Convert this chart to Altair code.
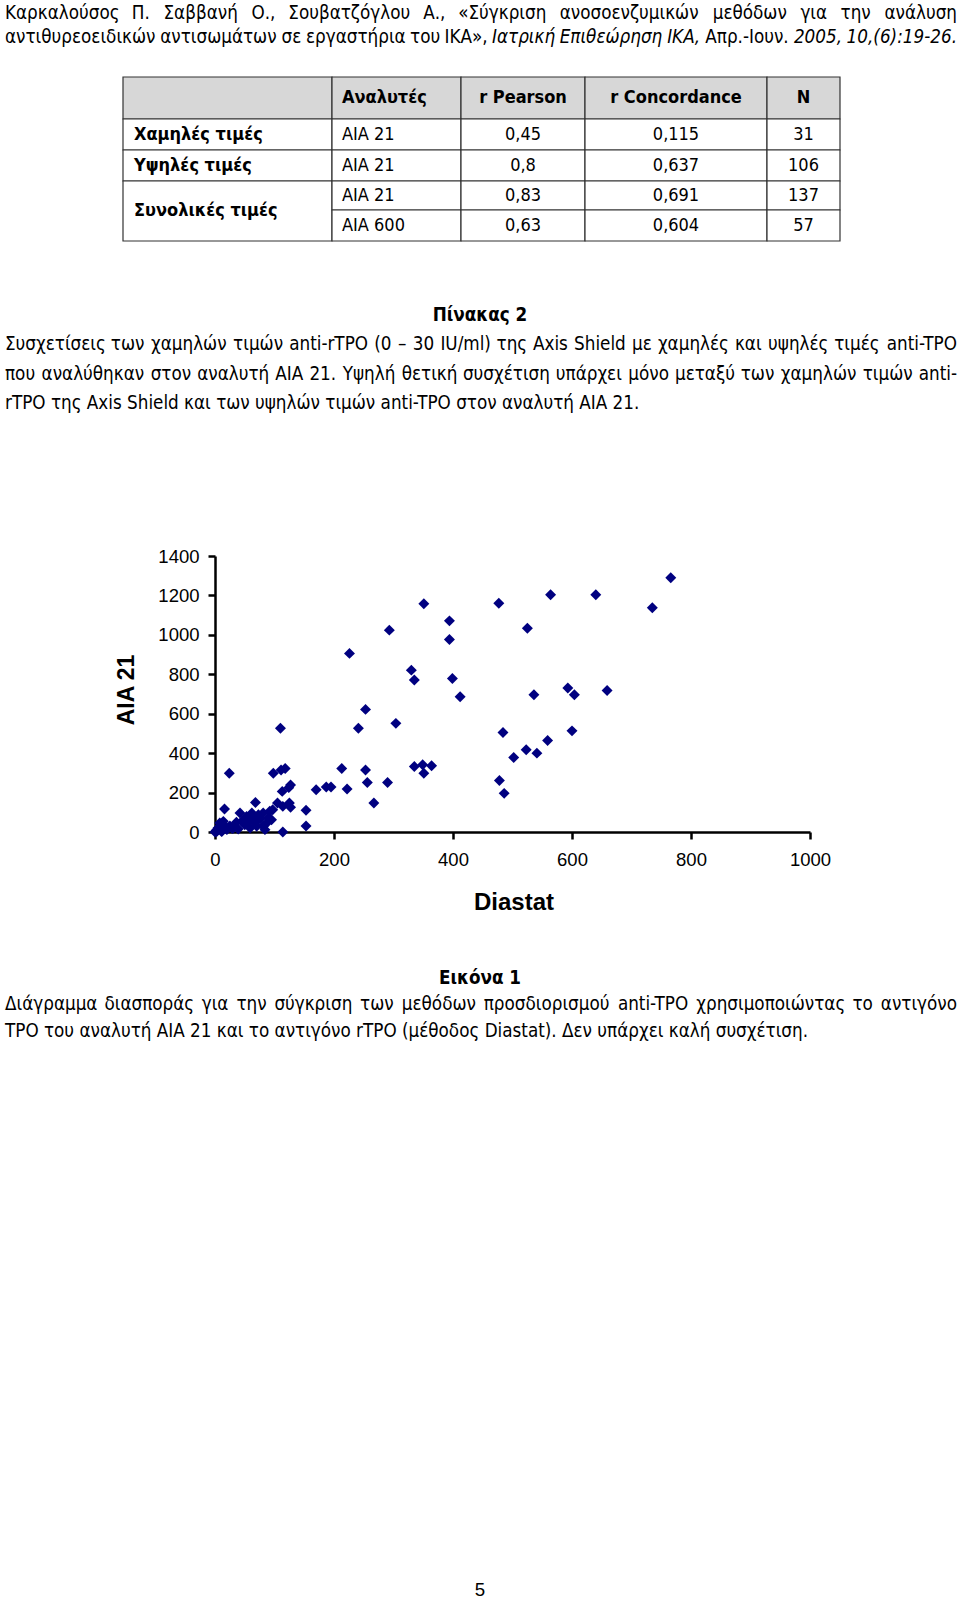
import unicodedata
import altair as alt
import pandas as pd

W, H = 960, 1600
NARROW = "'Liberation Sans Narrow', 'Arial Narrow', 'DejaVu Sans Condensed', sans-serif"
ARIAL = "'Liberation Sans', Arial, sans-serif"

# ---------------- content ----------------
header_line1 = ["Καρκαλούσος", "Π.", "Σαββανή", "Ο.,", "Σουβατζόγλου", "Α.,", "«Σύγκριση",
                "ανοσοενζυμικών", "μεθόδων", "για", "την", "ανάλυση"]
header_line2 = ["αντιθυρεοειδικών", "αντισωμάτων", "σε", "εργαστήρια", "του", "ΙΚΑ»,",
                "Ιατρική", "Επιθεώρηση", "ΙΚΑ,", "Απρ.-Ιουν.", "2005,", "10,(6):19-26."]
header_line2_italic = [0, 0, 0, 0, 0, 0, 1, 1, 1, 0, 1, 1]

table_header = ["", "Αναλυτές", "r Pearson", "r Concordance", "N"]
row_groups = ["Χαμηλές τιμές", "Υψηλές τιμές", "Συνολικές τιμές"]
analyzers = ["AIA 21", "AIA 21", "AIA 21", "AIA 600"]
pearson = ["0,45", "0,8", "0,83", "0,63"]
concordance = ["0,115", "0,637", "0,691", "0,604"]
n_values = ["31", "106", "137", "57"]

table_title = "Πίνακας 2"
table_caption_justified = [
    "Συσχετίσεις των χαμηλών τιμών anti-rTPO (0 – 30 IU/ml) της Axis Shield  με χαμηλές και υψηλές τιμές anti-TPO",
    "που αναλύθηκαν στον αναλυτή AIA 21. Υψηλή θετική συσχέτιση υπάρχει μόνο μεταξύ των χαμηλών τιμών anti-",
]
table_caption_last = "rTPO της Axis Shield και των υψηλών τιμών anti-TPO στον αναλυτή AIA 21."

figure_title = "Εικόνα 1"
figure_caption_justified = [
    "Διάγραμμα διασποράς για την σύγκριση των μεθόδων προσδιορισμού anti-TPO χρησιμοποιώντας το αντιγόνο",
]
figure_caption_last = "TPO του αναλυτή AIA 21 και το αντιγόνο rTPO (μέθοδος Diastat). Δεν υπάρχει καλή συσχέτιση."
page_number = "5"

x_title = "Diastat"
y_title = "AIA 21"
x_ticks = [0, 200, 400, 600, 800, 1000]
y_ticks = [0, 200, 400, 600, 800, 1000, 1200, 1400]

diastat = [351, 477, 394, 293, 394, 226, 330, 335, 399, 412, 253, 241, 304, 110, 484, 502,
           213, 253, 335, 349, 364, 351, 256, 290, 267, 222, 170, 187, 195, 478, 486,
           766, 564, 640, 735, 525, 536, 593, 604, 659, 600, 559, 523, 541,
           24, 98, 111, 118, 113, 124, 127, 125, 127, 114, 105, 97, 153, 153, 114, 16, 68,
           92, 81, 73, 62, 53, 42, 36, 45, 56, 67, 81, 84, 76, 64, 50, 28, 17, 8, 6, 3, 11,
           20, 0, 14, 90, 95, 87, 70, 59, 39, 2, 5, 10, 12, 25, 30]
aia21 = [1158, 1160, 1071, 1024, 976, 906, 821, 771, 779, 686, 622, 526, 551, 526, 505, 378,
         322, 315, 332, 341, 336, 298, 251, 251, 147, 218, 214, 228, 228, 261, 196,
         1290, 1203, 1203, 1138, 1034, 696, 730, 696, 718, 513, 464, 417, 400,
         298, 298, 315, 322, 206, 225, 239, 147, 125, 130, 147, 113, 110, 30, 0, 117, 150,
         105, 96, 88, 96, 79, 96, 49, 54, 54, 46, 29, 12, 66, 71, 37, 20, 29, 46, 12, 3, 3,
         12, 0, 54, 71, 62, 46, 29, 20, 15, 8, 20, 25, 5, 30, 18]

# ---------------- layout (pixels) ----------------
LEFT, RIGHT = 5, 957
BODY = 18.7
TABLE_FS = 18
col_edges = [123, 332, 461, 585, 767, 840]
row_edges = [77, 119, 150, 181, 210, 241]
GRAY = "#d7d7d7"

# approximate advance widths (em) of DejaVu Sans, scaled for the condensed face
_W = {}
for ch, w in zip("abcdefghijklmnopqrstuvwxyz",
                 [.613, .635, .550, .635, .615, .352, .635, .634, .278, .278, .579, .278, .974,
                  .634, .612, .635, .635, .411, .521, .392, .634, .592, .818, .592, .592, .525]):
    _W[ch] = w
for ch, w in zip("ABCDEFGHIJKLMNOPQRSTUVWXYZ",
                 [.684, .686, .698, .770, .632, .575, .775, .752, .295, .295, .656, .557, .863,
                  .748, .787, .603, .787, .695, .635, .611, .732, .684, .989, .685, .611, .685]):
    _W[ch] = w
for ch, w in zip("αβγδεζηθικλμνξοπρσςτυφχψω",
                 [.659, .638, .592, .612, .541, .544, .634, .612, .338, .589, .592, .636, .592,
                  .544, .612, .602, .635, .634, .550, .569, .579, .718, .592, .718, .837]):
    _W[ch] = w
for ch, w in zip("ΑΒΓΔΕΖΗΘΙΚΛΜΝΞΟΠΡΣΤΥΦΧΨΩ",
                 [.684, .686, .557, .684, .632, .685, .752, .787, .295, .656, .684, .863, .748,
                  .632, .787, .752, .603, .632, .611, .611, .820, .685, .820, .764]):
    _W[ch] = w
for ch in "0123456789":
    _W[ch] = .636
_W.update({" ": .318, ".": .318, ",": .318, ":": .337, ";": .337, "(": .390, ")": .390,
           "-": .361, "–": .500, "«": .557, "»": .557, "/": .337})
CONDENSED = 0.894


def est_width(word, size):
    total = 0.0
    for ch in word:
        base = unicodedata.normalize("NFD", ch)[0]
        total += _W.get(base, 0.6)
    return total * CONDENSED * size


def justify(words, y, size, styles=None):
    widths = [est_width(w, size) for w in words]
    gap = (RIGHT - LEFT - sum(widths)) / (len(words) - 1)
    rows, pos = [], LEFT
    for i, w in enumerate(words):
        st = styles[i] if styles else 0
        if i == 0:
            rows.append(dict(t=w, x=LEFT, y=y, a="left", s=st))
        elif i == len(words) - 1:
            rows.append(dict(t=w, x=RIGHT, y=y, a="right", s=st))
        else:
            rows.append(dict(t=w, x=pos + widths[i] / 2, y=y, a="center", s=st))
        pos += widths[i] + gap
    return rows


def text_layer(rows, size, weight="normal", style="normal", align="left", font=NARROW, angle=None):
    kw = dict(font=font, fontSize=size, fontWeight=weight, fontStyle=style,
              align=align, baseline="middle", color="black")
    if angle is not None:
        kw["angle"] = angle
    return alt.Chart(pd.DataFrame(rows)).mark_text(**kw).encode(
        x=alt.X("x:Q", scale=None, axis=None),
        y=alt.Y("y:Q", scale=None, axis=None),
        text="t:N",
    )


layers = []

# justified body text
just_rows = []
just_rows += justify(header_line1, 12.5, BODY)
just_rows += justify(header_line2, 37, BODY, header_line2_italic)
just_rows += justify(table_caption_justified[0].split(), 344, BODY)
just_rows += justify(table_caption_justified[1].split(), 373.5, BODY)
just_rows += justify(figure_caption_justified[0].split(), 1004, BODY)
for a in ["left", "center", "right"]:
    for s, style in [(0, "normal"), (1, "italic")]:
        rr = [r for r in just_rows if r["a"] == a and r["s"] == s]
        if rr:
            layers.append(text_layer(rr, BODY, style=style, align=a))

# left-aligned last lines
layers.append(text_layer([dict(t=table_caption_last, x=LEFT, y=402.5),
                          dict(t=figure_caption_last, x=LEFT, y=1030.5)], BODY))

# titles
layers.append(text_layer([dict(t=table_title, x=480, y=315),
                          dict(t=figure_title, x=480, y=977.5)], BODY, weight="bold", align="center"))
layers.append(text_layer([dict(t=page_number, x=480, y=1590)], BODY, align="center", font=ARIAL))

# table cells
cells = []
for c in range(5):
    cells.append(dict(x=col_edges[c], x2=col_edges[c + 1], y=row_edges[0], y2=row_edges[1], f=GRAY))
cells.append(dict(x=col_edges[0], x2=col_edges[1], y=row_edges[1], y2=row_edges[2], f="white"))
cells.append(dict(x=col_edges[0], x2=col_edges[1], y=row_edges[2], y2=row_edges[3], f="white"))
cells.append(dict(x=col_edges[0], x2=col_edges[1], y=row_edges[3], y2=row_edges[5], f="white"))
for c in range(1, 5):
    for r in range(1, 5):
        cells.append(dict(x=col_edges[c], x2=col_edges[c + 1], y=row_edges[r], y2=row_edges[r + 1], f="white"))
layers.append(alt.Chart(pd.DataFrame(cells)).mark_rect(stroke="#333333", strokeWidth=1.2).encode(
    x=alt.X("x:Q", scale=None, axis=None), x2="x2:Q",
    y=alt.Y("y:Q", scale=None, axis=None), y2="y2:Q",
    color=alt.Color("f:N", scale=None, legend=None),
))

# table text
def mid(r):
    return (row_edges[r] + row_edges[r + 1]) / 2


def cc(c):
    return (col_edges[c] + col_edges[c + 1]) / 2


hdr_left = [dict(t=table_header[1], x=col_edges[1] + 10, y=mid(0))]
hdr_center = [dict(t=table_header[c], x=cc(c), y=mid(0)) for c in (2, 3, 4)]
layers.append(text_layer(hdr_left, TABLE_FS, weight="bold"))
layers.append(text_layer(hdr_center, TABLE_FS, weight="bold", align="center"))
grp_rows = [dict(t=row_groups[0], x=col_edges[0] + 11, y=mid(1)),
            dict(t=row_groups[1], x=col_edges[0] + 11, y=mid(2)),
            dict(t=row_groups[2], x=col_edges[0] + 11, y=(row_edges[3] + row_edges[5]) / 2)]
layers.append(text_layer(grp_rows, TABLE_FS, weight="bold"))
layers.append(text_layer([dict(t=analyzers[i], x=col_edges[1] + 10, y=mid(i + 1)) for i in range(4)], TABLE_FS))
vals = []
for i in range(4):
    vals.append(dict(t=pearson[i], x=cc(2), y=mid(i + 1)))
    vals.append(dict(t=concordance[i], x=cc(3), y=mid(i + 1)))
    vals.append(dict(t=n_values[i], x=cc(4), y=mid(i + 1)))
layers.append(text_layer(vals, TABLE_FS, align="center"))

# scatter plot
X0, X1, Y0, Y1 = 215, 810, 832, 556
axis_common = dict(domainColor="black", domainWidth=2.5, tickColor="black", tickWidth=2.5,
                   tickSize=7, labelFont=ARIAL, labelFontSize=18.5, labelColor="black",
                   grid=False, title=None, format="d")
scatter = alt.Chart(pd.DataFrame({"d": diastat, "a": aia21})).mark_point(
    shape="diamond", filled=True, color="#000080", size=120, opacity=1
).encode(
    x=alt.X("d:Q", scale=alt.Scale(domain=[0, 1000], range=[X0, X1], nice=False, zero=False),
            axis=alt.Axis(values=x_ticks, offset=Y0 - H, labelPadding=11, labelFlush=False, **axis_common)),
    y=alt.Y("a:Q", scale=alt.Scale(domain=[0, 1400], range=[Y0, Y1], nice=False, zero=False),
            axis=alt.Axis(values=y_ticks, offset=-X0, labelPadding=9, labelFlush=False, **axis_common)),
)
layers.append(scatter)
layers.append(text_layer([dict(t=x_title, x=514, y=903)], 24, weight="bold", align="center", font=ARIAL))
layers.append(text_layer([dict(t=y_title, x=127, y=690)], 23, weight="bold", align="center", font=ARIAL, angle=270))

chart = alt.layer(*layers).resolve_scale(x="independent", y="independent").properties(
    width=W, height=H, padding=0, autosize=alt.AutoSizeParams(type="none"), background="white"
).configure_view(stroke=None)

chart.save("out.html", embed_options={"renderer": "svg", "actions": False})
